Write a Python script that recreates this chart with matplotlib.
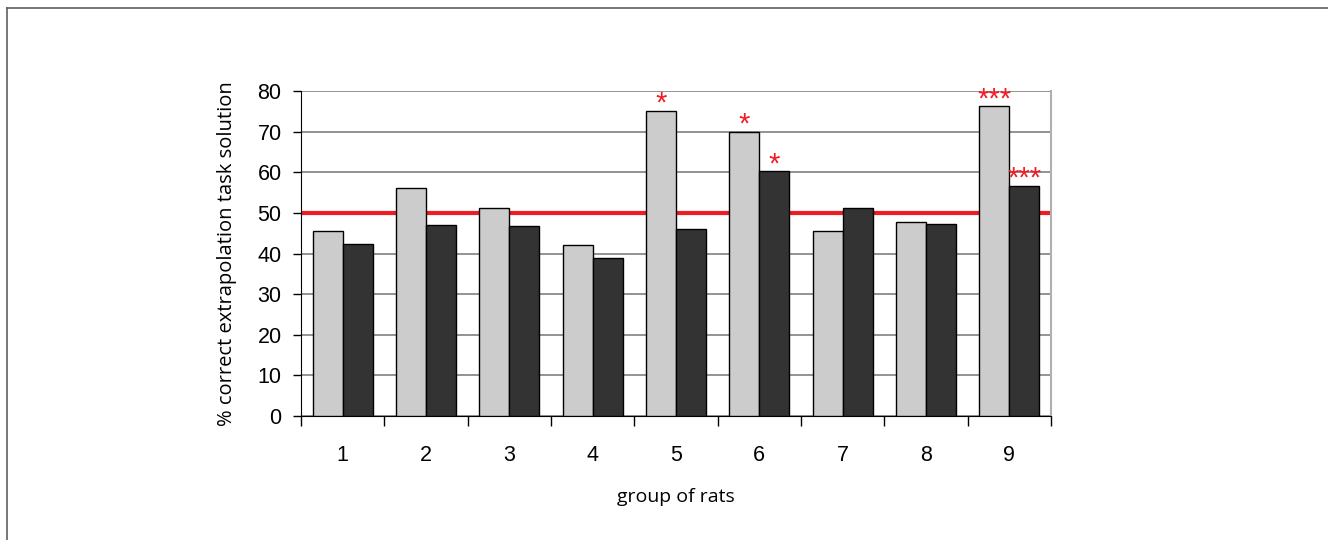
import matplotlib.pyplot as plt
from matplotlib.lines import Line2D
import numpy as np

plt.rcParams["font.family"] = ["Open Sans", "DejaVu Sans"]

groups = ["1", "2", "3", "4", "5", "6", "7", "8", "9"]
light_vals = [45.5, 56.2, 51.3, 42.2, 75.2, 70.0, 45.5, 47.8, 76.3]
dark_vals = [42.3, 47.0, 46.8, 39.0, 46.0, 60.2, 51.2, 47.2, 56.7]
light_marks = ["", "", "", "", "*", "*", "", "", "***"]
dark_marks = ["", "", "", "", "", "*", "", "", "***"]
chance_level = 50

RED = "#ee1c25"
TICK_FONT = "Liberation Sans"

fig = plt.figure(figsize=(13.28, 5.4), dpi=100)
ax = fig.add_axes([301 / 1328, 1 - 416 / 540, 750 / 1328, 325 / 540])

x = np.arange(len(groups))
w = 0.36
ax.bar(x - w / 2, light_vals, w, color="#cccccc", edgecolor="black", linewidth=1, zorder=3)
ax.bar(x + w / 2, dark_vals, w, color="#333333", edgecolor="black", linewidth=1, zorder=3)

# significance stars above the bars
for offs, vals, marks in ((-w / 2, light_vals, light_marks), (w / 2, dark_vals, dark_marks)):
    for xi, v, m in zip(x + offs, vals, marks):
        if m:
            ax.text(xi, v - 0.3, m, ha="center", va="baseline", color=RED,
                    fontsize=21, fontfamily=TICK_FONT, zorder=5)

ax.axhline(chance_level, color=RED, linewidth=3, zorder=2)

ax.set_xlim(-0.5, len(groups) - 0.5)
ax.set_ylim(0, 80)
ax.set_yticks(range(0, 81, 10))
ax.set_xticks(np.arange(len(groups) + 1) - 0.5)
ax.set_xticklabels([])
ax.set_xticks(x, minor=True)
ax.set_xticklabels(groups, minor=True, fontfamily=TICK_FONT)
for lbl in ax.get_yticklabels():
    lbl.set_fontfamily(TICK_FONT)
ax.tick_params(axis="x", which="major", direction="out", length=7, width=1)
ax.tick_params(axis="x", which="minor", length=0, pad=21, labelsize=15.5)
ax.tick_params(axis="y", direction="out", length=6, width=1, labelsize=15.5, pad=8)
ax.yaxis.grid(True, color="#808080", linewidth=1.2, zorder=1)

ax.spines["top"].set_visible(False)
ax.spines["right"].set_color("#b0b0b0")
ax.spines["right"].set_linewidth(1.5)

ax.set_ylabel("% correct extrapolation task solution", fontsize=14.5, labelpad=15)
ax.set_xlabel("group of rats", fontsize=14, labelpad=16)

# outer frame
fig.add_artist(Line2D([7 / 1328, 7 / 1328], [0, 1 - 8 / 540], color="#606060", linewidth=1.2))
fig.add_artist(Line2D([7 / 1328, 1], [1 - 8 / 540, 1 - 8 / 540], color="#606060", linewidth=1.2))

fig.savefig("out.png", dpi=100)
